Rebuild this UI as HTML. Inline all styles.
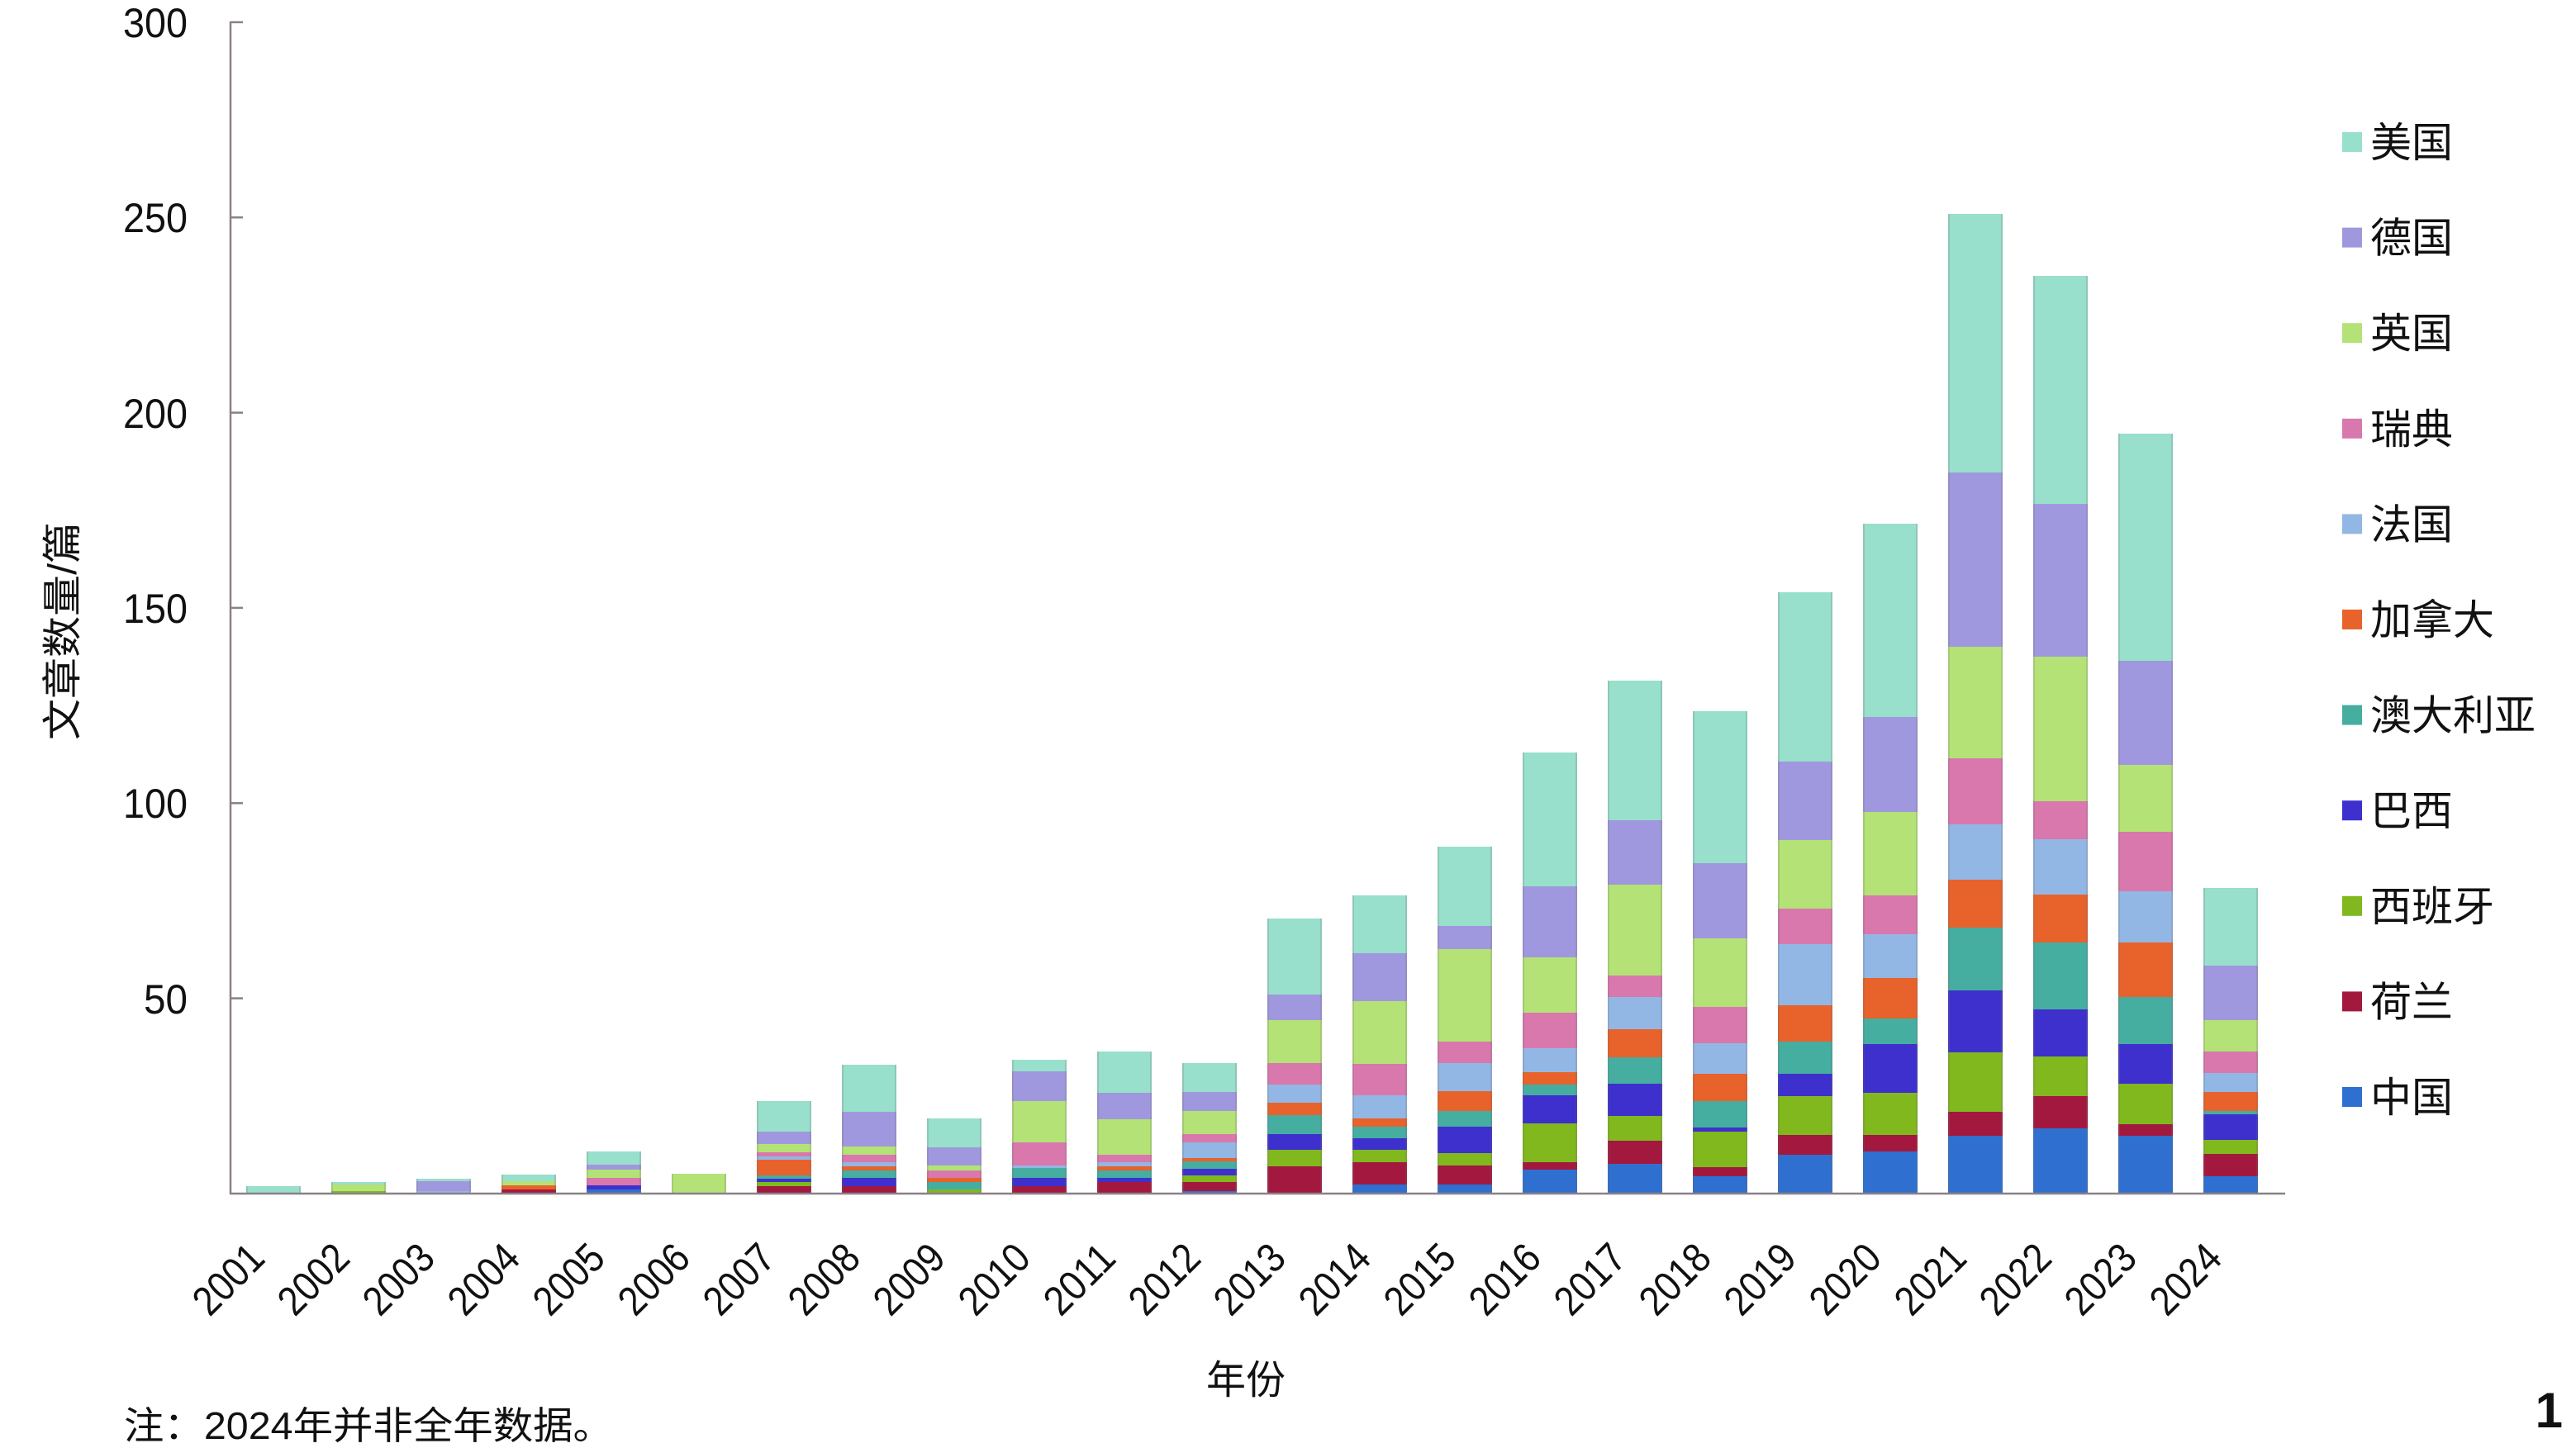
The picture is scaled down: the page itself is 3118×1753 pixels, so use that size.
<!DOCTYPE html>
<html lang="zh">
<head>
<meta charset="utf-8">
<style>
  html,body{margin:0;padding:0;background:#fff;}
  #wrap{position:relative;width:3118px;height:1753px;overflow:hidden;background:#fff;}
  .bar{position:absolute;bottom:308px;width:66px;display:flex;flex-direction:column-reverse;}
  .bar::after{content:"";position:absolute;left:0;top:0;right:0;bottom:0;box-shadow:inset 2px 0 0 rgba(110,110,110,0.22),inset -2px 0 0 rgba(110,110,110,0.22);pointer-events:none;}
  .bar i{display:block;flex:none;height:calc(var(--v) * 4.727px);}
  .a{background:#2f6fd0;}
  .b{background:#a3183e;}
  .c{background:#80b81e;}
  .d{background:#3d30cc;}
  .e{background:#46ada1;}
  .f{background:#e8622c;}
  .g{background:#93b7e4;}
  .h{background:#d978ad;}
  .k{background:#b4e276;}
  .m{background:#a098de;}
  .n{background:#98dfcc;}
  svg{position:absolute;left:0;top:0;}
  .num{font-family:"Liberation Sans",sans-serif;fill:#111;}
  .cjk{font-family:"Liberation Sans","Noto Sans CJK SC",sans-serif;fill:#111;}
</style>
</head>
<body>
<div id="wrap">

<div class="bar" style="left:297.5px"><i class="n" style="--v:2"></i></div>
<div class="bar" style="left:400.5px"><i class="c" style="--v:0.7"></i><i class="k" style="--v:1.6"></i><i class="n" style="--v:0.7"></i></div>
<div class="bar" style="left:503.5px"><i class="b" style="--v:0.3"></i><i class="g" style="--v:0.3"></i><i class="m" style="--v:2.5"></i><i class="n" style="--v:0.8"></i></div>
<div class="bar" style="left:606.5px"><i class="b" style="--v:1"></i><i class="f" style="--v:1.1"></i><i class="k" style="--v:1"></i><i class="n" style="--v:1.7"></i></div>
<div class="bar" style="left:709.5px"><i class="a" style="--v:1"></i><i class="d" style="--v:1.1"></i><i class="h" style="--v:1.9"></i><i class="k" style="--v:2.1"></i><i class="m" style="--v:1.3"></i><i class="n" style="--v:3.3"></i></div>
<div class="bar" style="left:812.5px"><i class="k" style="--v:5"></i></div>
<div class="bar" style="left:915.5px"><i class="b" style="--v:2"></i><i class="c" style="--v:1"></i><i class="d" style="--v:0.8"></i><i class="e" style="--v:0.8"></i><i class="f" style="--v:4"></i><i class="g" style="--v:1"></i><i class="h" style="--v:1"></i><i class="k" style="--v:2"></i><i class="m" style="--v:3.3"></i><i class="n" style="--v:7.8"></i></div>
<div class="bar" style="left:1018.5px"><i class="b" style="--v:2"></i><i class="d" style="--v:2"></i><i class="e" style="--v:2"></i><i class="f" style="--v:1"></i><i class="g" style="--v:1"></i><i class="h" style="--v:2"></i><i class="k" style="--v:2"></i><i class="m" style="--v:9"></i><i class="n" style="--v:12"></i></div>
<div class="bar" style="left:1121.5px"><i class="c" style="--v:1"></i><i class="e" style="--v:2"></i><i class="f" style="--v:1"></i><i class="h" style="--v:2"></i><i class="k" style="--v:1.3"></i><i class="m" style="--v:4.6"></i><i class="n" style="--v:7.4"></i></div>
<div class="bar" style="left:1224.5px"><i class="b" style="--v:2"></i><i class="d" style="--v:2"></i><i class="e" style="--v:2.5"></i><i class="g" style="--v:0.7"></i><i class="h" style="--v:6"></i><i class="k" style="--v:10.6"></i><i class="m" style="--v:7.5"></i><i class="n" style="--v:3"></i></div>
<div class="bar" style="left:1327.5px"><i class="b" style="--v:3"></i><i class="d" style="--v:1"></i><i class="e" style="--v:2"></i><i class="f" style="--v:1"></i><i class="g" style="--v:1"></i><i class="h" style="--v:2"></i><i class="k" style="--v:9"></i><i class="m" style="--v:6.8"></i><i class="n" style="--v:10.6"></i></div>
<div class="bar" style="left:1430.5px"><i class="a" style="--v:0.6"></i><i class="b" style="--v:2.4"></i><i class="c" style="--v:1.6"></i><i class="d" style="--v:1.8"></i><i class="e" style="--v:1.8"></i><i class="f" style="--v:1"></i><i class="g" style="--v:4"></i><i class="h" style="--v:2"></i><i class="k" style="--v:6"></i><i class="m" style="--v:4.8"></i><i class="n" style="--v:7.4"></i></div>
<div class="bar" style="left:1533.5px"><i class="b" style="--v:7"></i><i class="c" style="--v:4.3"></i><i class="d" style="--v:4"></i><i class="e" style="--v:4.8"></i><i class="f" style="--v:3.2"></i><i class="g" style="--v:4.6"></i><i class="h" style="--v:5.5"></i><i class="k" style="--v:11.1"></i><i class="m" style="--v:6.6"></i><i class="n" style="--v:19.4"></i></div>
<div class="bar" style="left:1636.5px"><i class="a" style="--v:2.3"></i><i class="b" style="--v:5.7"></i><i class="c" style="--v:3.2"></i><i class="d" style="--v:2.9"></i><i class="e" style="--v:3"></i><i class="f" style="--v:2.1"></i><i class="g" style="--v:6"></i><i class="h" style="--v:8"></i><i class="k" style="--v:16.2"></i><i class="m" style="--v:12.2"></i><i class="n" style="--v:14.7"></i></div>
<div class="bar" style="left:1739.5px"><i class="a" style="--v:2.3"></i><i class="b" style="--v:4.8"></i><i class="c" style="--v:3.2"></i><i class="d" style="--v:6.9"></i><i class="e" style="--v:4"></i><i class="f" style="--v:5"></i><i class="g" style="--v:7.2"></i><i class="h" style="--v:5.6"></i><i class="k" style="--v:23.6"></i><i class="m" style="--v:5.9"></i><i class="n" style="--v:20.3"></i></div>
<div class="bar" style="left:1842.5px"><i class="a" style="--v:6.1"></i><i class="b" style="--v:1.9"></i><i class="c" style="--v:9.9"></i><i class="d" style="--v:7.2"></i><i class="e" style="--v:2.8"></i><i class="f" style="--v:3.3"></i><i class="g" style="--v:6.1"></i><i class="h" style="--v:9.1"></i><i class="k" style="--v:14.1"></i><i class="m" style="--v:18.3"></i><i class="n" style="--v:34.1"></i></div>
<div class="bar" style="left:1945.5px"><i class="a" style="--v:7.6"></i><i class="b" style="--v:6"></i><i class="c" style="--v:6.3"></i><i class="d" style="--v:8.3"></i><i class="e" style="--v:6.7"></i><i class="f" style="--v:7.2"></i><i class="g" style="--v:8.2"></i><i class="h" style="--v:5.6"></i><i class="k" style="--v:23.3"></i><i class="m" style="--v:16.4"></i><i class="n" style="--v:35.8"></i></div>
<div class="bar" style="left:2048.5px"><i class="a" style="--v:4.5"></i><i class="b" style="--v:2.2"></i><i class="c" style="--v:9.2"></i><i class="d" style="--v:1.1"></i><i class="e" style="--v:6.7"></i><i class="f" style="--v:6.9"></i><i class="g" style="--v:7.9"></i><i class="h" style="--v:9.4"></i><i class="k" style="--v:17.5"></i><i class="m" style="--v:19.3"></i><i class="n" style="--v:38.8"></i></div>
<div class="bar" style="left:2151.5px"><i class="a" style="--v:10"></i><i class="b" style="--v:5"></i><i class="c" style="--v:10"></i><i class="d" style="--v:5.6"></i><i class="e" style="--v:8.3"></i><i class="f" style="--v:9.4"></i><i class="g" style="--v:15.7"></i><i class="h" style="--v:9"></i><i class="k" style="--v:17.5"></i><i class="m" style="--v:20.2"></i><i class="n" style="--v:43.3"></i></div>
<div class="bar" style="left:2254.5px"><i class="a" style="--v:10.8"></i><i class="b" style="--v:4.3"></i><i class="c" style="--v:10.8"></i><i class="d" style="--v:12.3"></i><i class="e" style="--v:6.7"></i><i class="f" style="--v:10.3"></i><i class="g" style="--v:11.2"></i><i class="h" style="--v:9.9"></i><i class="k" style="--v:21.5"></i><i class="m" style="--v:24.2"></i><i class="n" style="--v:49.5"></i></div>
<div class="bar" style="left:2357.5px"><i class="a" style="--v:14.8"></i><i class="b" style="--v:6.1"></i><i class="c" style="--v:15.3"></i><i class="d" style="--v:15.8"></i><i class="e" style="--v:16.2"></i><i class="f" style="--v:12.3"></i><i class="g" style="--v:14.1"></i><i class="h" style="--v:16.8"></i><i class="k" style="--v:28.6"></i><i class="m" style="--v:44.6"></i><i class="n" style="--v:66.4"></i></div>
<div class="bar" style="left:2460.5px"><i class="a" style="--v:16.7"></i><i class="b" style="--v:8.3"></i><i class="c" style="--v:10.1"></i><i class="d" style="--v:12.1"></i><i class="e" style="--v:17.1"></i><i class="f" style="--v:12.2"></i><i class="g" style="--v:14.3"></i><i class="h" style="--v:9.7"></i><i class="k" style="--v:37.1"></i><i class="m" style="--v:39.1"></i><i class="n" style="--v:58.4"></i></div>
<div class="bar" style="left:2563.5px"><i class="a" style="--v:14.8"></i><i class="b" style="--v:2.9"></i><i class="c" style="--v:10.4"></i><i class="d" style="--v:10.1"></i><i class="e" style="--v:12.2"></i><i class="f" style="--v:13.9"></i><i class="g" style="--v:13.1"></i><i class="h" style="--v:15.2"></i><i class="k" style="--v:17.3"></i><i class="m" style="--v:26.5"></i><i class="n" style="--v:58.3"></i></div>
<div class="bar" style="left:2666.5px"><i class="a" style="--v:4.5"></i><i class="b" style="--v:5.6"></i><i class="c" style="--v:3.6"></i><i class="d" style="--v:6.7"></i><i class="e" style="--v:0.8"></i><i class="f" style="--v:4.8"></i><i class="g" style="--v:4.9"></i><i class="h" style="--v:5.5"></i><i class="k" style="--v:8"></i><i class="m" style="--v:13.9"></i><i class="n" style="--v:20"></i></div>

<svg width="3118" height="1753" viewBox="0 0 3118 1753" xmlns="http://www.w3.org/2000/svg">
  <!-- axes -->
  <g stroke="#8a8088" stroke-width="2.5" fill="none">
    <line x1="279" y1="26" x2="279" y2="1446"/>
    <line x1="278" y1="1445" x2="2766" y2="1445"/>
    <line x1="279" y1="26.9" x2="294" y2="26.9"/>
    <line x1="279" y1="263.2" x2="294" y2="263.2"/>
    <line x1="279" y1="499.6" x2="294" y2="499.6"/>
    <line x1="279" y1="735.9" x2="294" y2="735.9"/>
    <line x1="279" y1="972.3" x2="294" y2="972.3"/>
    <line x1="279" y1="1208.6" x2="294" y2="1208.6"/>
  </g>

  <!-- y tick labels -->
  <g class="num" font-size="50" text-anchor="end">
    <text x="227" y="45" textLength="78" lengthAdjust="spacingAndGlyphs">300</text>
    <text x="227" y="281" textLength="78" lengthAdjust="spacingAndGlyphs">250</text>
    <text x="227" y="518" textLength="78" lengthAdjust="spacingAndGlyphs">200</text>
    <text x="227" y="754" textLength="78" lengthAdjust="spacingAndGlyphs">150</text>
    <text x="227" y="990" textLength="78" lengthAdjust="spacingAndGlyphs">100</text>
    <text x="227" y="1227" textLength="53" lengthAdjust="spacingAndGlyphs">50</text>
  </g>

  <!-- y axis title -->
  <text class="cjk" font-size="48" text-anchor="middle" x="92" y="764" transform="rotate(-90 92 764)" textLength="264" lengthAdjust="spacingAndGlyphs">文章数量/篇</text>

  <!-- x tick labels -->
  <g class="num" font-size="50" text-anchor="end">
    <text x="323" y="1526" transform="rotate(-45 323 1526)" textLength="98" lengthAdjust="spacingAndGlyphs">2001</text>
    <text x="426" y="1526" transform="rotate(-45 426 1526)" textLength="98" lengthAdjust="spacingAndGlyphs">2002</text>
    <text x="529" y="1526" transform="rotate(-45 529 1526)" textLength="98" lengthAdjust="spacingAndGlyphs">2003</text>
    <text x="632" y="1526" transform="rotate(-45 632 1526)" textLength="98" lengthAdjust="spacingAndGlyphs">2004</text>
    <text x="735" y="1526" transform="rotate(-45 735 1526)" textLength="98" lengthAdjust="spacingAndGlyphs">2005</text>
    <text x="838" y="1526" transform="rotate(-45 838 1526)" textLength="98" lengthAdjust="spacingAndGlyphs">2006</text>
    <text x="941" y="1526" transform="rotate(-45 941 1526)" textLength="98" lengthAdjust="spacingAndGlyphs">2007</text>
    <text x="1044" y="1526" transform="rotate(-45 1044 1526)" textLength="98" lengthAdjust="spacingAndGlyphs">2008</text>
    <text x="1147" y="1526" transform="rotate(-45 1147 1526)" textLength="98" lengthAdjust="spacingAndGlyphs">2009</text>
    <text x="1250" y="1526" transform="rotate(-45 1250 1526)" textLength="98" lengthAdjust="spacingAndGlyphs">2010</text>
    <text x="1353" y="1526" transform="rotate(-45 1353 1526)" textLength="98" lengthAdjust="spacingAndGlyphs">2011</text>
    <text x="1456" y="1526" transform="rotate(-45 1456 1526)" textLength="98" lengthAdjust="spacingAndGlyphs">2012</text>
    <text x="1559" y="1526" transform="rotate(-45 1559 1526)" textLength="98" lengthAdjust="spacingAndGlyphs">2013</text>
    <text x="1662" y="1526" transform="rotate(-45 1662 1526)" textLength="98" lengthAdjust="spacingAndGlyphs">2014</text>
    <text x="1765" y="1526" transform="rotate(-45 1765 1526)" textLength="98" lengthAdjust="spacingAndGlyphs">2015</text>
    <text x="1868" y="1526" transform="rotate(-45 1868 1526)" textLength="98" lengthAdjust="spacingAndGlyphs">2016</text>
    <text x="1971" y="1526" transform="rotate(-45 1971 1526)" textLength="98" lengthAdjust="spacingAndGlyphs">2017</text>
    <text x="2074" y="1526" transform="rotate(-45 2074 1526)" textLength="98" lengthAdjust="spacingAndGlyphs">2018</text>
    <text x="2177" y="1526" transform="rotate(-45 2177 1526)" textLength="98" lengthAdjust="spacingAndGlyphs">2019</text>
    <text x="2280" y="1526" transform="rotate(-45 2280 1526)" textLength="98" lengthAdjust="spacingAndGlyphs">2020</text>
    <text x="2383" y="1526" transform="rotate(-45 2383 1526)" textLength="98" lengthAdjust="spacingAndGlyphs">2021</text>
    <text x="2486" y="1526" transform="rotate(-45 2486 1526)" textLength="98" lengthAdjust="spacingAndGlyphs">2022</text>
    <text x="2589" y="1526" transform="rotate(-45 2589 1526)" textLength="98" lengthAdjust="spacingAndGlyphs">2023</text>
    <text x="2692" y="1526" transform="rotate(-45 2692 1526)" textLength="98" lengthAdjust="spacingAndGlyphs">2024</text>
  </g>

  <!-- x axis title -->
  <text class="cjk" font-size="48" text-anchor="middle" x="1508" y="1687">年份</text>

  <!-- note -->
  <text class="cjk" font-size="46" x="150" y="1742" textLength="592" lengthAdjust="spacingAndGlyphs">注：2024年并非全年数据。</text>

  <!-- page number -->
  <text font-family="Liberation Sans, sans-serif" font-weight="bold" font-size="60" fill="#111" text-anchor="end" x="3102" y="1728">1</text>

  <!-- legend -->
  <g>
    <rect x="2835" y="160" width="24" height="24" fill="#98dfcc"/>
    <rect x="2835" y="275.6" width="24" height="24" fill="#a098de"/>
    <rect x="2835" y="391.2" width="24" height="24" fill="#b4e276"/>
    <rect x="2835" y="506.8" width="24" height="24" fill="#d978ad"/>
    <rect x="2835" y="622.4" width="24" height="24" fill="#93b7e4"/>
    <rect x="2835" y="738" width="24" height="24" fill="#e8622c"/>
    <rect x="2835" y="853.6" width="24" height="24" fill="#46ada1"/>
    <rect x="2835" y="969.2" width="24" height="24" fill="#3d30cc"/>
    <rect x="2835" y="1084.8" width="24" height="24" fill="#80b81e"/>
    <rect x="2835" y="1200.4" width="24" height="24" fill="#a3183e"/>
    <rect x="2835" y="1316" width="24" height="24" fill="#2f6fd0"/>
  </g>
  <g class="cjk" font-size="50">
    <text x="2869" y="190">美国</text>
    <text x="2869" y="305.6">德国</text>
    <text x="2869" y="421.2">英国</text>
    <text x="2869" y="536.8">瑞典</text>
    <text x="2869" y="652.4">法国</text>
    <text x="2869" y="768">加拿大</text>
    <text x="2869" y="883.6">澳大利亚</text>
    <text x="2869" y="999.2">巴西</text>
    <text x="2869" y="1114.8">西班牙</text>
    <text x="2869" y="1230.4">荷兰</text>
    <text x="2869" y="1346">中国</text>
  </g>
</svg>
</div>
</body>
</html>
